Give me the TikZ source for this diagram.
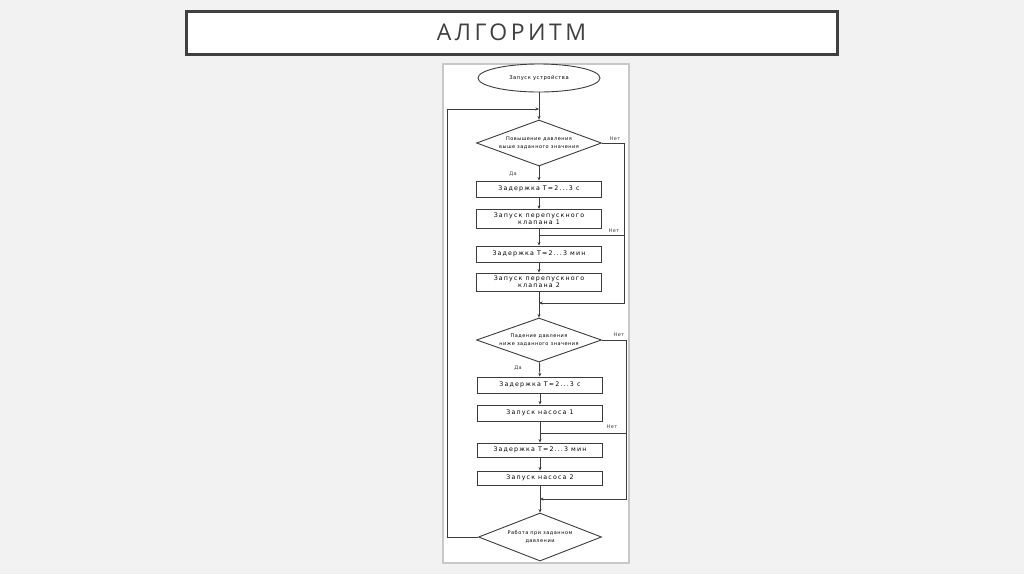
\documentclass[tikz,border=0pt]{standalone}
\usepackage{fontspec}
\setmainfont{DejaVu Sans}
\newfontfamily\ttlfont[LetterSpace=15]{Open Sans}
\newfontfamily\gostfont[LetterSpace=18]{DejaVu Sans}
\newfontfamily\gostsmall[LetterSpace=10]{DejaVu Sans}
\usepackage{tikz}
\usetikzlibrary{arrows.meta,positioning,shapes.geometric}
\definecolor{bgc}{RGB}{242,242,242}
\definecolor{ink}{RGB}{60,60,60}
\definecolor{frm}{RGB}{64,64,64}
\definecolor{pnl}{RGB}{200,200,200}
\tikzset{
  blk/.style ={rectangle,draw=ink,line width=0.9pt,fill=white,minimum width=125pt,minimum height=16pt,inner sep=0pt,align=center,font=\gostfont\fontsize{6.3}{7.2}\selectfont},
  dia/.style ={diamond,aspect=3,draw=ink,line width=0.9pt,fill=white,minimum width=125pt,minimum height=46pt,inner sep=0pt,align=center,font=\gostsmall\fontsize{5}{7.5}\selectfont},
  term/.style={ellipse,draw=ink,line width=0.9pt,fill=white,minimum width=122pt,minimum height=28pt,inner sep=0pt,font=\gostsmall\fontsize{5.2}{6}\selectfont},
  lbl/.style ={inner sep=0pt,text=ink,font=\gostsmall\fontsize{5}{5}\selectfont},
  ln/.style  ={draw=ink,line width=0.9pt},
  ar/.style  ={ln,-{Stealth[length=3.5pt,width=3pt]}},
}
\begin{document}
\begin{tikzpicture}[x=1pt,y=-1pt,
  ttlbox/.style={rectangle,draw=frm,line width=3pt,fill=white,minimum width=651pt,minimum height=43pt,text=frm,font=\ttlfont\fontsize{23}{26}\selectfont}]
  \fill[bgc] (0,0) rectangle (1024,574);
  \useasboundingbox (0,0) rectangle (1024,574);
  \node[ttlbox] (ttl) at (511.5,32.5) {АЛГОРИТМ};
  \draw[pnl,fill=white,line width=1.2pt] (443,64) rectangle (629,563);
  \node[term] (st) at (539,78) {Запуск устройства};
  \node[dia] (d1) at (539,143) {Повышение давления\\выше заданного значения};
  \node[blk] (b1) at (539,189) {Задержка T=2...3 с};
  \node[blk,minimum height=19pt] (b2) at (539,219) {Запуск перепускного\\клапана 1};
  \node[blk] (b3) at (539,254) {Задержка T=2...3 мин};
  \node[blk,minimum height=18pt] (b4) at (539,282) {Запуск перепускного\\клапана 2};
  \node[dia,minimum height=44pt] (d2) at (539,340) {Падение давления\\ниже заданного значения};
  \node[blk] (b5) at (540,385) {Задержка T=2...3 с};
  \node[blk] (b6) at (540,413) {Запуск насоса 1};
  \node[blk,minimum height=14pt] (b7) at (540,450) {Задержка T=2...3 мин};
  \node[blk,minimum height=14pt] (b8) at (540,478) {Запуск насоса 2};
  \node[dia,minimum width=123pt,minimum height=48pt] (d3) at (540,537) {Работа при заданном\\давлении};
  \node[lbl] (n1) at (615,139) {Нет};
  \node[lbl] (n2) at (614,231) {Нет};
  \node[lbl] (n3) at (619,335) {Нет};
  \node[lbl] (n4) at (612,427) {Нет};
  \node[lbl] (y1) at (513,174) {Да};
  \node[lbl] (y2) at (518,368) {Да};
  \coordinate (lp) at (539,109);
  \coordinate (lpl) at (447,537);
  \coordinate (r1) at (624,303); \coordinate (j1) at (539,303);
  \coordinate (k1) at (539,235); \coordinate (k1r) at (624,235);
  \coordinate (r2) at (626,499); \coordinate (j2) at (540,499);
  \coordinate (k2) at (540,433); \coordinate (k2r) at (626,433);
  \draw[ar](st)--(d1); \draw[ar](d1)--(b1); \draw[ar](b1)--(b2);
  \draw[ar](b2)--(b3); \draw[ar](b3)--(b4); \draw[ar](b4)--(d2);
  \draw[ar](d2)--(b5); \draw[ar](b5)--(b6); \draw[ar](b6)--(b7);
  \draw[ar](b7)--(b8); \draw[ar](b8)--(d3);
  \draw[ar](d1.east)-|(r1)--(j1); \draw[ln](k1)--(k1r);
  \draw[ar](d2.east)-|(r2)--(j2); \draw[ln](k2)--(k2r);
  \draw[ar](d3.west)--(lpl)|-(lp);
\end{tikzpicture}
\end{document}
